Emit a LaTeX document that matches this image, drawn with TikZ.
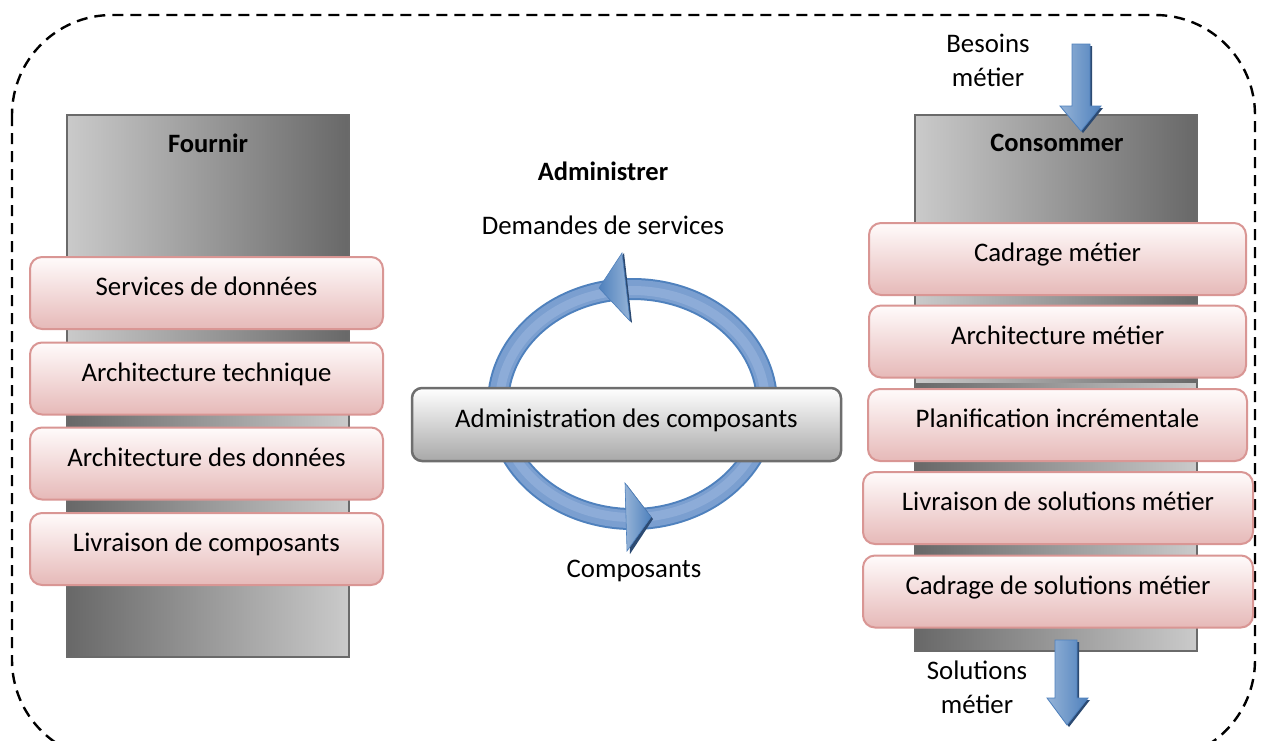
\documentclass[tikz,border=0pt]{standalone}
\usepackage{fontspec}
\setmainfont{Carlito}
\usetikzlibrary{calc}
\definecolor{pinkborder}{HTML}{D99694}
\definecolor{pinktop}{HTML}{FFFBFB}
\definecolor{pinkbot}{HTML}{E6B9B8}
\definecolor{colborder}{HTML}{6A6A6A}
\definecolor{collight}{HTML}{CACACA}
\definecolor{coldark}{HTML}{686868}
\definecolor{bluedark}{HTML}{4F81BD}
\definecolor{bluemid}{HTML}{7B9FD0}
\definecolor{bluering}{HTML}{8DACD8}
\definecolor{bluelight}{HTML}{95B3D7}
\definecolor{blueshadow}{HTML}{2C4A72}
\definecolor{admborder}{HTML}{6E6E6E}
\definecolor{admbot}{HTML}{A8A8A8}
\tikzset{
  column/.style={draw=colborder, line width=1.5pt, inner sep=0pt,
    path picture={
      \shade[left color=collight, right color=coldark]
        (path picture bounding box.north west) rectangle (path picture bounding box.east);
      \shade[left color=coldark, right color=collight]
        (path picture bounding box.west) rectangle (path picture bounding box.south east);
    }},
  pinkbox/.style={draw=pinkborder, line width=2pt, rounded corners=12pt,
    top color=pinktop, bottom color=pinkbot, inner sep=0pt, text height=17pt, text depth=12pt},
  admbox/.style={draw=admborder, line width=2.5pt, rounded corners=10pt,
    top color=white, bottom color=admbot, inner sep=0pt, text height=17pt, text depth=12pt},
  title/.style={font=\fontsize{26.5}{30}\selectfont\bfseries},
  lbl/.style={align=center, inner sep=0pt},
  bigarrow/.style={left color=bluelight, right color=bluedark, draw=bluedark, line width=0.8pt},
}
\begin{document}
\begin{tikzpicture}[x=1pt, y=-1pt, font=\fontsize{26.8}{34}\selectfont]
\useasboundingbox (0,0) rectangle (1263,740);
\fill[white] (0,0) rectangle (1263,740);
% dashed outer border
\draw[dash pattern=on 11pt off 7pt, line width=2.4pt, rounded corners=100pt] (12,15) rectangle (1255,760);

% columns
\node[column, minimum width=282, minimum height=542] (fcol) at (208,386) {};
\node[column, minimum width=282, minimum height=536] (ccol) at (1056,383) {};
\node[title] (fournir) at (208,143) {Fournir};
\node[title] (consommer) at (1057,143) {Consommer};

% left boxes
\node[pinkbox, minimum width=353, minimum height=72] (b1) at (206.5,293) {Services de données};
\node[pinkbox, minimum width=353, minimum height=72] (b2) at (206.5,378.5) {Architecture technique};
\node[pinkbox, minimum width=353, minimum height=72] (b3) at (206.5,463.5) {Architecture des données};
\node[pinkbox, minimum width=353, minimum height=72] (b4) at (206.5,549) {Livraison de composants};

% right boxes
\node[pinkbox, minimum width=377, minimum height=72] (r1) at (1057.5,259) {Cadrage métier};
\node[pinkbox, minimum width=377, minimum height=72] (r2) at (1057.5,341.5) {Architecture métier};
\node[pinkbox, minimum width=379, minimum height=72] (r3) at (1057.5,425) {Planification incrémentale};
\node[pinkbox, minimum width=390, minimum height=72] (r4) at (1058,508) {Livraison de solutions métier};
\node[pinkbox, minimum width=390, minimum height=72] (r5) at (1058,591.5) {Cadrage de solutions métier};

% Besoins metier arrow
\coordinate (ba) at (1081,44);
\fill[blueshadow] ($(ba)+(-7,2)$) -- ($(ba)+(11,2)$) -- ($(ba)+(11,64)$) -- ($(ba)+(22,64)$) -- ($(ba)+(2,89)$) -- ($(ba)+(-19,64)$) -- ($(ba)+(-7,64)$) -- cycle;
\path[bigarrow] ($(ba)+(-9,0)$) -- ($(ba)+(9,0)$) -- ($(ba)+(9,62)$) -- ($(ba)+(20,62)$) -- ($(ba)+(0,87)$) -- ($(ba)+(-21,62)$) -- ($(ba)+(-9,62)$) -- cycle;
\node[lbl] (besoins) at (988,60) {Besoins\\métier};

% Solutions metier arrow
\coordinate (sa) at (1066,640);
\fill[blueshadow] ($(sa)+(-9,2)$) -- ($(sa)+(13,2)$) -- ($(sa)+(13,60)$) -- ($(sa)+(24,60)$) -- ($(sa)+(3,87)$) -- ($(sa)+(-17,60)$) -- ($(sa)+(-9,60)$) -- cycle;
\path[bigarrow] ($(sa)+(-11,0)$) -- ($(sa)+(11,0)$) -- ($(sa)+(11,58)$) -- ($(sa)+(22,58)$) -- ($(sa)+(1,85)$) -- ($(sa)+(-19,58)$) -- ($(sa)+(-11,58)$) -- cycle;
\node[lbl] (solutions) at (977,687) {Solutions\\métier};

% center cycle
\node[title] (administrer) at (603,171) {Administrer};
\node[lbl] (demandes) at (603,225) {Demandes de services};
\coordinate (cc) at (632.5,404);
\draw[line width=22pt, bluedark] (cc) ellipse (134.5 and 115);
\draw[line width=18pt, bluemid] (cc) ellipse (134.5 and 115);
\draw[line width=9pt, bluering] (cc) ellipse (133 and 113.5);
% top arrowhead (pointing left)
\fill[blueshadow] (600,289) -- (624,253) -- (632,323) -- cycle;
\path[left color=bluedark, right color=bluelight, draw=bluedark, line width=0.6pt] (599,288) -- (622,253) -- (630,321) -- cycle;
% bottom arrowhead (pointing right)
\fill[blueshadow] (653,519) -- (627,485) -- (630,554) -- cycle;
\path[left color=bluelight, right color=bluedark, draw=bluedark, line width=0.6pt] (651,517) -- (625,483) -- (627,551) -- cycle;

\node[admbox, minimum width=429, minimum height=73] (adm) at (626.5,424.5) {Administration des composants};
\node[lbl] (composants) at (634,571) {Composants};
\end{tikzpicture}
\end{document}
